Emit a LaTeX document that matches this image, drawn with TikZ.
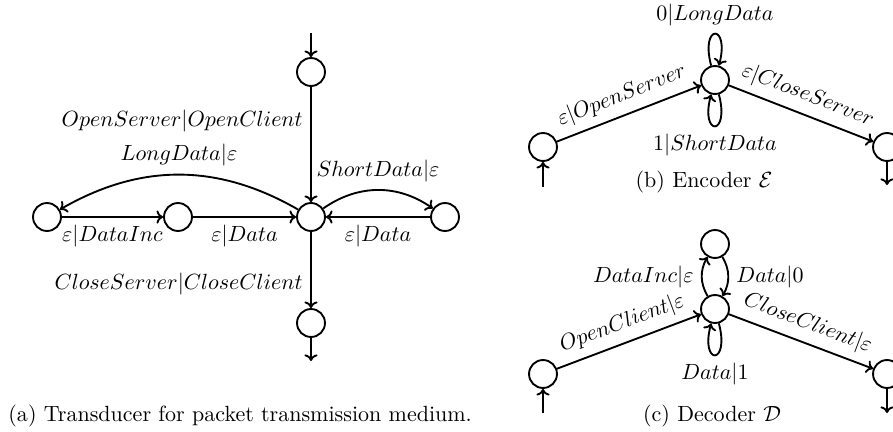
\documentclass[tikz,border=0pt]{standalone}
\usetikzlibrary{arrows.meta}
\begin{document}
\begin{tikzpicture}[x=0.4545pt,y=0.4545pt,
  st/.style={circle,draw,line width=0.85pt,minimum size=12.7pt,inner sep=0pt},
  tr/.style={-{To[length=3pt,width=6pt]},line width=0.85pt}]
\useasboundingbox (0,0) rectangle (893,431);
% (a)
\node[st] (a1) at (311,359) {};
\node[st] (a0) at (311,214) {};
\node[st] (aL) at (47,214) {};
\node[st] (aM) at (178,214) {};
\node[st] (aR) at (445,214) {};
\node[st] (aB) at (311,108) {};
\coordinate (ain) at (311,398);
\coordinate (aout) at (311,70);
\draw[tr] (ain) -- (a1);
\draw[tr] (a1) -- node[left,pos=0.3] {$OpenServer|OpenClient$} (a0);
\draw[tr] (a0) to[bend right=30] node[above] {$LongData|\varepsilon$} (aL);
\draw[tr] (aL) -- node[below] {$\varepsilon|DataInc$} (aM);
\draw[tr] (aM) -- node[below] {$\varepsilon|Data$} (a0);
\draw[tr] (a0) to[bend left=35] node[above] {$ShortData|\varepsilon$} (aR);
\draw[tr] (aR) -- node[below] {$\varepsilon|Data$} (a0);
\draw[tr] (a0) -- node[left,pos=0.68] {$CloseServer|CloseClient$} (aB);
\draw[tr] (aB) -- (aout);
\node[anchor=west,inner sep=0pt] (capa) at (8,15) {(a) Transducer for packet transmission medium.};
% (b)
\node[st] (bL) at (543,284) {};
\node[st] (bM) at (715,351) {};
\node[st] (bR) at (887,284) {};
\coordinate (bin) at (543,244);
\coordinate (bout) at (887,246);
\draw[tr] (bin) -- (bL);
\draw[tr] (bL) -- node[above,sloped] {$\varepsilon|OpenServer$} (bM);
\draw[tr] (bM) to[loop above,min distance=7mm] node {$0|LongData$} (bM);
\draw[tr] (bM) to[loop below,min distance=7mm] node {$1|ShortData$} (bM);
\draw[tr] (bM) -- node[above,sloped] {$\varepsilon|CloseServer$} (bR);
\draw[tr] (bR) -- (bout);
\node (capb) at (704,249) {(b) Encoder $\mathcal{E}$};
% (c)
\node[st] (cT) at (715,187) {};
\node[st] (cM) at (715,122) {};
\node[st] (cL) at (543,57) {};
\node[st] (cR) at (887,57) {};
\coordinate (cin) at (543,18);
\coordinate (cout) at (887,18);
\draw[tr] (cin) -- (cL);
\draw[tr] (cL) -- node[above,sloped] {$OpenClient|\varepsilon$} (cM);
\draw[tr] (cM) to[bend left=30] node[left] {$DataInc|\varepsilon$} (cT);
\draw[tr] (cT) to[bend left=30] node[right] {$Data|0$} (cM);
\draw[tr] (cM) to[loop below,min distance=7mm] node {$Data|1$} (cM);
\draw[tr] (cM) -- node[above,sloped] {$CloseClient|\varepsilon$} (cR);
\draw[tr] (cR) -- (cout);
\node (capc) at (712,15) {(c) Decoder $\mathcal{D}$};
\end{tikzpicture}
\end{document}
